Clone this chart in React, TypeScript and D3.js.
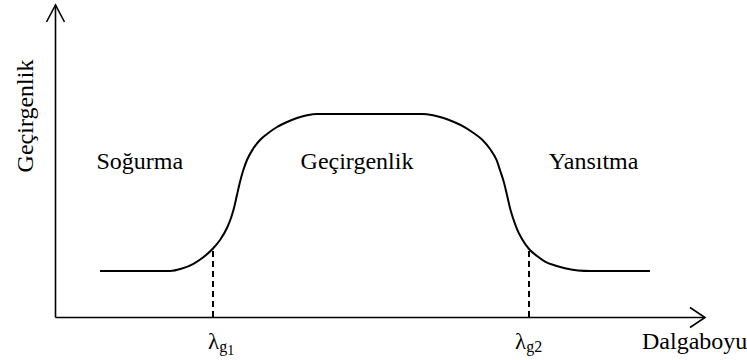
import React from "react";
import * as d3 from "d3";

// Curve points (x: wavelength units 0..100, y: transmission 0..100)
const waveX = [6.85, 17.62, 19.46, 21.15, 22.69, 24.23, 25.31, 26.38, 27.0, 27.46, 27.92, 28.38, 28.85, 29.46, 30.38, 31.46, 32.54, 34.08, 35.62, 37.15, 38.69, 40.23, 56.38, 58.08, 59.69, 61.31, 62.92, 64.54, 65.69, 66.85, 67.85, 68.43, 68.97, 69.46, 69.92, 70.38, 71.0, 71.77, 72.85, 74.08, 75.31, 76.85, 78.54, 80.38, 82.23, 91.46];
const transY = [15.02, 15.02, 15.81, 17.25, 19.33, 22.2, 24.92, 28.75, 31.95, 35.14, 39.3, 43.45, 46.96, 50.48, 53.99, 56.87, 58.79, 61.02, 62.62, 63.9, 64.76, 65.18, 65.18, 64.76, 63.9, 62.62, 61.02, 58.79, 56.87, 53.99, 50.48, 46.96, 43.45, 39.3, 35.14, 31.95, 28.43, 25.24, 22.04, 19.81, 18.05, 16.77, 15.81, 15.18, 15.02, 15.02];
const cutoffX = [24.23, 72.85];
const cutoffY = [22.2, 22.04];
const cutoffLabels = [["g", "1"], ["g2"]];
const regionLabels = ["Soğurma", "Geçirgenlik", "Yansıtma"];
const regionX = [6.3, 37.7, 75.9];
const xTitle = "Dalgaboyu";
const yTitle = "Geçirgenlik";

const W = 747;
const H = 360;
const FONT = "'Liberation Serif', 'Times New Roman', Tinos, 'Noto Serif', 'DejaVu Serif', FreeSerif, Times, serif";

export default function App() {
  const x = d3.scaleLinear().domain([0, 100]).range([55.5, 705.5]);
  const y = d3.scaleLinear().domain([0, 100]).range([318, 5]);
  const pts: [number, number][] = waveX.map((v, i) => [v, transY[i]]);
  const line = d3
    .line<[number, number]>()
    .x((d) => x(d[0]))
    .y((d) => y(d[1]))
    .curve(d3.curveMonotoneX);

  const x0 = x(0);
  const y0 = 317.5;
  const xEnd = x(100) - 0.5;
  const yTop = y(100);

  return (
    <svg
      width={W}
      height={H}
      style={{ position: "absolute", left: 0, top: 0, background: "#fff", fontFamily: FONT }}
    >
      {/* axes */}
      <line x1={x0} y1={y0} x2={x0} y2={yTop} stroke="#000" strokeWidth={1.6} />
      <polyline
        points={`${x0 - 9},${yTop + 17} ${x0},${yTop} ${x0 + 9},${yTop + 17}`}
        fill="none"
        stroke="#000"
        strokeWidth={1.6}
      />
      <line x1={x0} y1={y0} x2={xEnd} y2={y0} stroke="#000" strokeWidth={1.6} />
      <polyline
        points={`${xEnd - 15},${y0 - 10} ${xEnd},${y0} ${xEnd - 15},${y0 + 10}`}
        fill="none"
        stroke="#000"
        strokeWidth={1.6}
      />

      {/* curve */}
      <path d={line(pts) || ""} fill="none" stroke="#000" strokeWidth={2} />

      {/* cutoff dashed lines */}
      {cutoffX.map((cx, i) => (
        <line
          key={i}
          x1={Math.round(x(cx))}
          x2={Math.round(x(cx))}
          y1={y(cutoffY[i]) + 2}
          y2={y0}
          stroke="#000"
          strokeWidth={2}
          strokeDasharray="6,4"
          shapeRendering="crispEdges"
        />
      ))}

      {/* cutoff labels */}
      <text x={x(cutoffX[0]) - 5} y={349} fontSize={23}>
        λ
        <tspan fontSize={16} dy={3}>
          {cutoffLabels[0][0]}
        </tspan>
        <tspan fontSize={14} dy={3}>
          {cutoffLabels[0][1]}
        </tspan>
      </text>
      <text x={x(cutoffX[1]) - 14} y={349} fontSize={23}>
        λ
        <tspan fontSize={16} dy={3}>
          {cutoffLabels[1][0]}
        </tspan>
      </text>

      {/* region labels */}
      {regionLabels.map((t, i) => (
        <text key={t + i} x={x(regionX[i])} y={169} fontSize={24}>
          {t}
        </text>
      ))}

      {/* axis titles */}
      <text x={642} y={349} fontSize={24}>
        {xTitle}
      </text>
      <text transform={`translate(33,116) rotate(-90)`} textAnchor="middle" fontSize={24}>
        {yTitle}
      </text>
    </svg>
  );
}
